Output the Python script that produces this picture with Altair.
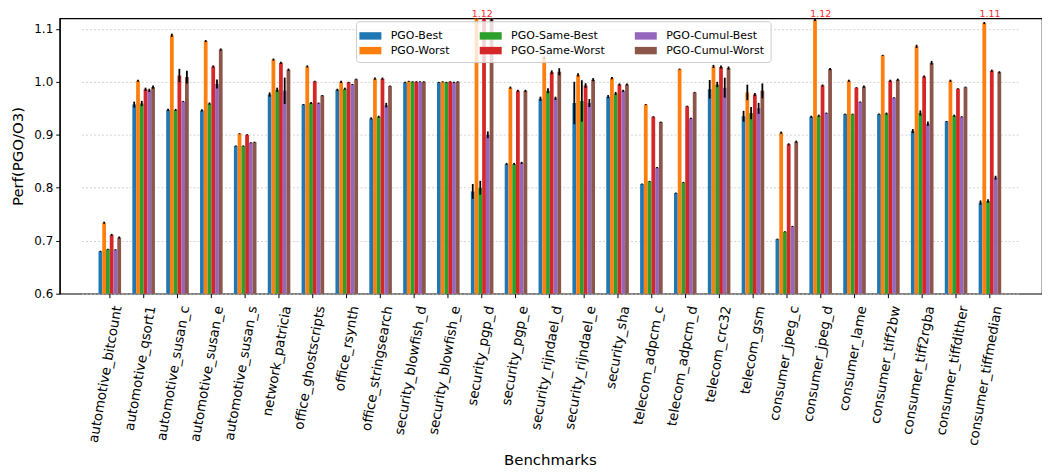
import altair as alt
import pandas as pd

benchmarks = [
    "automotive_bitcount", "automotive_qsort1", "automotive_susan_c", "automotive_susan_e",
    "automotive_susan_s", "network_patricia", "office_ghostscripts", "office_rsynth",
    "office_stringsearch", "security_blowfish_d", "security_blowfish_e", "security_pgp_d",
    "security_pgp_e", "security_rijndael_d", "security_rijndael_e", "security_sha",
    "telecom_adpcm_c", "telecom_adpcm_d", "telecom_crc32", "telecom_gsm",
    "consumer_jpeg_c", "consumer_jpeg_d", "consumer_lame", "consumer_tiff2bw",
    "consumer_tiff2rgba", "consumer_tiffdither", "consumer_tiffmedian",
]

series_names = ["PGO-Best", "PGO-Worst", "PGO-Same-Best", "PGO-Same-Worst",
                "PGO-Cumul-Best", "PGO-Cumul-Worst"]
series_colors = ["#1f77b4", "#ff7f0e", "#2ca02c", "#d62728", "#9467bd", "#8c564b"]

pgo_best = [0.680, 0.957, 0.947, 0.946, 0.879, 0.976, 0.957, 0.985, 0.931, 0.999, 0.999,
            0.793, 0.845, 0.968, 0.960, 0.972, 0.807, 0.790, 0.986, 0.935, 0.703, 0.934,
            0.939, 0.939, 0.907, 0.925, 0.772]
pgo_worst = [0.734, 1.002, 1.088, 1.077, 0.902, 1.042, 1.029, 1.000, 1.006, 1.001, 1.000,
             1.120, 0.989, 1.046, 1.013, 1.007, 0.957, 1.024, 1.029, 0.980, 0.904, 1.117,
             1.002, 1.050, 1.067, 1.002, 1.111]
pgo_same_best = [0.684, 0.959, 0.947, 0.959, 0.879, 0.985, 0.960, 0.987, 0.934, 1.000, 0.999,
                 0.800, 0.845, 0.983, 0.964, 0.978, 0.812, 0.810, 0.995, 0.941, 0.717, 0.936,
                 0.939, 0.940, 0.941, 0.936, 0.775]
pgo_same_worst = [0.711, 0.986, 1.012, 1.029, 0.900, 1.036, 1.001, 0.999, 1.006, 1.000, 1.000,
                  1.120, 0.983, 1.018, 0.993, 0.995, 0.934, 0.954, 1.028, 0.976, 0.882, 0.993,
                  0.989, 1.002, 1.010, 0.987, 1.021]
pgo_cumul_best = [0.683, 0.984, 0.963, 0.996, 0.885, 0.983, 0.960, 0.995, 0.956, 1.000, 0.999,
                  0.900, 0.847, 0.969, 0.960, 0.983, 0.838, 0.931, 0.989, 0.950, 0.727, 0.941,
                  0.962, 0.970, 0.921, 0.934, 0.819]
pgo_cumul_worst = [0.706, 0.990, 1.009, 1.061, 0.886, 1.023, 0.974, 1.005, 0.992, 1.000, 1.000,
                   1.120, 0.983, 1.019, 1.004, 0.995, 0.924, 0.980, 1.026, 0.983, 0.887, 1.024,
                   0.991, 1.004, 1.036, 0.990, 1.018]

# half-widths of the error bars
err_best = [0.001, 0.0056, 0.002, 0.002, 0.001, 0.004, 0.001, 0.002, 0.002, 0.001, 0.001,
            0.014, 0.002, 0.004, 0.040, 0.003, 0.001, 0.001, 0.0175, 0.0103, 0.001, 0.002,
            0.001, 0.001, 0.004, 0.001, 0.004]
err_worst = [0.002, 0.002, 0.003, 0.002, 0.001, 0.002, 0.002, 0.002, 0.002, 0.001, 0.001,
             0.002, 0.002, 0.002, 0.003, 0.002, 0.001, 0.001, 0.003, 0.0147, 0.002, 0.002,
             0.002, 0.001, 0.003, 0.002, 0.002]
err_same_best = [0.001, 0.005, 0.002, 0.002, 0.001, 0.004, 0.002, 0.002, 0.002, 0.001, 0.001,
                 0.013, 0.002, 0.0047, 0.039, 0.003, 0.001, 0.001, 0.005, 0.0117, 0.001, 0.002,
                 0.001, 0.002, 0.005, 0.002, 0.0035]
err_same_worst = [0.002, 0.003, 0.0125, 0.002, 0.001, 0.002, 0.001, 0.001, 0.002, 0.001, 0.001,
                  0.002, 0.002, 0.0036, 0.0044, 0.002, 0.001, 0.001, 0.003, 0.003, 0.002, 0.002,
                  0.001, 0.002, 0.002, 0.001, 0.002]
err_cumul_best = [0.001, 0.003, 0.001, 0.0085, 0.001, 0.025, 0.001, 0.001, 0.0043, 0.001, 0.001,
                  0.0063, 0.002, 0.003, 0.0075, 0.002, 0.001, 0.001, 0.0188, 0.0103, 0.001, 0.001,
                  0.001, 0.001, 0.004, 0.001, 0.0036]
err_cumul_worst = [0.002, 0.003, 0.012, 0.002, 0.001, 0.002, 0.001, 0.001, 0.001, 0.001, 0.001,
                   0.008, 0.002, 0.0067, 0.003, 0.002, 0.001, 0.001, 0.003, 0.014, 0.002, 0.002,
                   0.002, 0.002, 0.0035, 0.001, 0.002]

y_ticks = [0.6, 0.7, 0.8, 0.9, 1.0, 1.1]
y_domain = [0.6, 1.12]

all_values = [pgo_best, pgo_worst, pgo_same_best, pgo_same_worst, pgo_cumul_best, pgo_cumul_worst]
all_errors = [err_best, err_worst, err_same_best, err_same_worst, err_cumul_best, err_cumul_worst]

rows = []
for s, vals, errs in zip(series_names, all_values, all_errors):
    for b, v, e in zip(benchmarks, vals, errs):
        rows.append({"benchmark": b, "series": s, "value": v, "lo": v - e, "hi": v + e})
df = pd.DataFrame(rows)

# labels for bars running off the top of the axis
lab_rows = []
for i, b in enumerate(benchmarks):
    m = max(v[i] for v in all_values)
    if m > 1.1:
        lab_rows.append({"benchmark": b, "label": f"{m:.2f}"})
df_lab = pd.DataFrame(lab_rows)

FONT = "DejaVu Sans"
W, H = 988, 277

x_scale = alt.Scale(paddingInner=0.333, paddingOuter=0.5, range=[22, 964])
x_axis = alt.Axis(labelAngle=-80, labelAlign="right", labelBaseline="middle",
                  labelFontSize=13.5, labelPadding=8, labelOffset=8, tickSize=4,
                  domain=False, titleFontSize=15, titlePadding=6,
                  titleFontWeight="normal")
y_scale = alt.Scale(domain=y_domain, clamp=True, nice=False, zero=False)
y_axis = alt.Axis(values=y_ticks, format=".1f", labelFontSize=12, tickSize=4,
                  labelPadding=3, titleFontSize=15, titlePadding=8,
                  titleFontWeight="normal", grid=True, gridDash=[2, 2],
                  gridColor="#c8c8c8", gridWidth=0.8)
YTITLE = "Perf(PGO/O3)"

bars = alt.Chart(df).mark_bar().encode(
    x=alt.X("benchmark:N", sort=benchmarks, title="Benchmarks", scale=x_scale, axis=x_axis),
    xOffset=alt.XOffset("series:N", sort=series_names,
                        scale=alt.Scale(paddingInner=0, paddingOuter=0)),
    y=alt.Y("value:Q", scale=y_scale, axis=y_axis, title=YTITLE),
    color=alt.Color(
        "series:N",
        scale=alt.Scale(domain=series_names, range=series_colors),
        legend=alt.Legend(
            title=None, orient="none", legendX=298, legendY=3, columns=3,
            symbolType="M-1.3,-0.44L1.3,-0.44L1.3,0.44L-1.3,0.44Z", symbolSize=289,
            symbolStrokeWidth=0, labelFontSize=11, labelFont=FONT, labelOffset=12,
            columnPadding=29, rowPadding=1, padding=6,
            fillColor="rgba(255,255,255,0.8)", strokeColor="#cccccc", cornerRadius=3,
        ),
    ),
)

errs = alt.Chart(df).mark_rule(color="black", strokeWidth=1.8).encode(
    x=alt.X("benchmark:N", sort=benchmarks, title="Benchmarks"),
    xOffset=alt.XOffset("series:N", sort=series_names),
    y=alt.Y("lo:Q", title=YTITLE),
    y2="hi:Q",
)

labels = alt.Chart(df_lab).mark_text(color="#ff2a2a", fontSize=9.5, font=FONT,
                                     baseline="alphabetic", dy=-1).encode(
    x=alt.X("benchmark:N", sort=benchmarks, title="Benchmarks"),
    y=alt.datum(y_domain[1]),
    text="label:N",
)

chart = alt.layer(bars, errs, labels).properties(
    width=W, height=H,
    padding={"left": 2, "top": 0, "right": 0, "bottom": 0},
).configure_view(
    stroke="black", strokeWidth=1.2
).configure_axis(
    labelFont=FONT, titleFont=FONT, labelColor="black", titleColor="black",
    domainColor="black", tickColor="black", domainWidth=1.2,
).configure_axisX(grid=False)

chart.save("out.html", embed_options={"renderer": "svg", "actions": False})
